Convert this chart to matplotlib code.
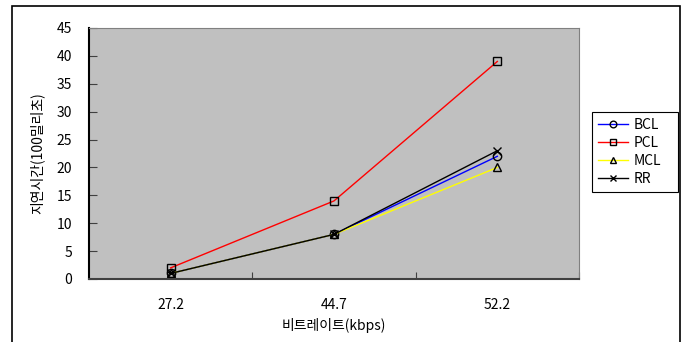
import matplotlib
matplotlib.use("Agg")
import matplotlib.pyplot as plt
from matplotlib.patches import Rectangle

plt.rcParams['font.family'] = ['Noto Sans CJK KR', 'DejaVu Sans']

categories = ['27.2', '44.7', '52.2']
bcl = [1, 8, 22]
pcl = [2, 14, 39]
mcl = [1, 8, 20]
rr = [1, 8, 23]

series = [
    ('BCL', bcl, 'blue', 'o'),
    ('PCL', pcl, 'red', 's'),
    ('MCL', mcl, 'yellow', '^'),
    ('RR', rr, 'black', 'x'),
]

fig = plt.figure(figsize=(6.85, 3.42), dpi=100)
# outer chart frame (bottom edge is cut off in the original)
fig.patches.append(Rectangle((12 / 685, -0.05), 668 / 685, 1.05 - 6 / 342, transform=fig.transFigure,
                             fill=False, edgecolor='black', linewidth=1.2, clip_on=False))

ax = fig.add_axes([89 / 685, 1 - 279 / 342, 490 / 685, 251 / 342])
ax.set_facecolor('#c0c0c0')

x = [0.5, 1.5, 2.5]
for name, vals, color, marker in series:
    ax.plot(x, vals, color=color, linewidth=1.0, marker=marker, markersize=6,
            markerfacecolor='none', markeredgecolor='black', markeredgewidth=1.0, label=name)

ax.set_xlim(0, 3)
ax.set_ylim(0, 45)
ax.set_yticks(range(0, 46, 5))
ax.set_xticks([1, 2, 3])
ax.set_xticklabels([])
ax.set_xticks(x, minor=True)
ax.set_xticklabels(categories, minor=True, fontsize=10)
ax.tick_params(axis='x', which='minor', length=0, pad=14)
ax.tick_params(axis='x', which='major', direction='in', length=5, color='#404040')
ax.tick_params(axis='y', direction='in', length=6, labelsize=10, pad=12, color='#404040')

ax.spines['left'].set_color('black')
ax.spines['left'].set_linewidth(1.5)
ax.spines['bottom'].set_color('#404040')
ax.spines['bottom'].set_linewidth(1.5)
ax.spines['top'].set_color('#808080')
ax.spines['right'].set_color('#808080')

ax.set_ylabel('지연시간(100밀리초)', fontsize=10, labelpad=9)
ax.set_xlabel('비트레이트(kbps)', fontsize=10, labelpad=4)

leg = ax.legend(loc='center left', bbox_to_anchor=(592 / 685, 1 - 192 / 342, 86 / 685, 80 / 342),
                bbox_transform=fig.transFigure, mode='expand', fancybox=False, framealpha=1,
                edgecolor='black', fontsize=10, handlelength=2.2, borderaxespad=0,
                labelspacing=0.3, handletextpad=0.4, markerscale=0.8)
leg.get_frame().set_linewidth(0.8)

fig.savefig('out.png', dpi=100)
